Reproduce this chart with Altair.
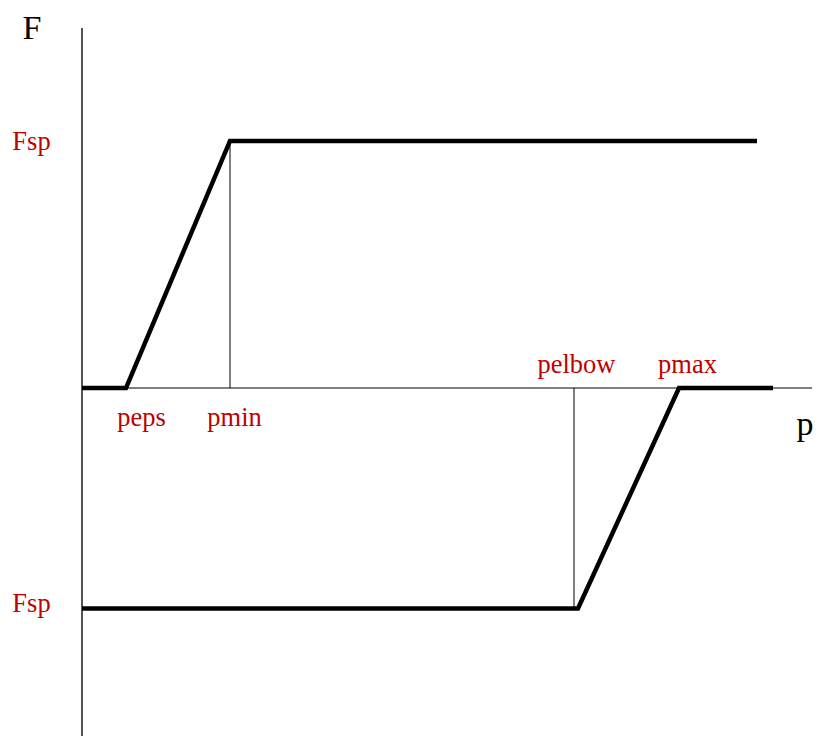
import altair as alt
import pandas as pd

# Upper characteristic (thick line)
upper_p = [0.0, 4.4, 14.8, 67.5]
upper_F = [0.0, 0.0, 24.7, 24.7]
# Lower characteristic (thick line)
lower_p = [0.0, 49.6, 59.7, 69.1]
lower_F = [-22.05, -22.05, 0.0, 0.0]

# Thin vertical guides: p position, F start, F end
guide_p = [14.8, 49.2]
guide_F1 = [0.0, -22.05]
guide_F2 = [24.7, 0.0]

# Axis extents
yaxis_F = [-34.8, 36.0]
xaxis_p = [0.0, 73.0]

# Red labels
red_text = ["Fsp", "Fsp", "peps", "pmin", "pelbow", "pmax"]
red_p = [-5.05, -5.05, 5.95, 15.25, 49.45, 60.55]
red_F = [23.85, -22.35, -3.8, -3.8, 1.47, 1.47]

# Black axis names
axis_text = ["F", "p"]
axis_p = [-5.0, 72.3]
axis_F = [34.9, -4.7]

# scale domains (whole canvas)
P_DOM = [-7.4, 73.2]
F_DOM = [-34.8, 38.0]

xs = alt.Scale(domain=P_DOM, nice=False, zero=False)
ys = alt.Scale(domain=F_DOM, nice=False, zero=False)

def X(field="p"):
    return alt.X(f"{field}:Q", scale=xs, axis=None)

def Y(field="F"):
    return alt.Y(f"{field}:Q", scale=ys, axis=None)

df_up = pd.DataFrame({"p": upper_p, "F": upper_F, "o": range(len(upper_p))})
df_lo = pd.DataFrame({"p": lower_p, "F": lower_F, "o": range(len(lower_p))})
df_g = pd.DataFrame({"p": guide_p, "F": guide_F1, "F2": guide_F2})
df_ya = pd.DataFrame({"p": [0.0], "F": [yaxis_F[0]], "F2": [yaxis_F[1]]})
df_xa = pd.DataFrame({"p": [xaxis_p[0]], "p2": [xaxis_p[1]], "F": [0.0]})
df_red = pd.DataFrame({"t": red_text, "p": red_p, "F": red_F})
df_ax = pd.DataFrame({"t": axis_text, "p": axis_p, "F": axis_F})

yaxis = alt.Chart(df_ya).mark_rule(color="#555555", strokeWidth=2).encode(
    x=X(), y=Y(), y2="F2:Q")
xaxis = alt.Chart(df_xa).mark_rule(color="#000000", strokeWidth=1.2).encode(
    x=X(), x2="p2:Q", y=Y())
guides = alt.Chart(df_g).mark_rule(color="#000000", strokeWidth=1).encode(
    x=X(), y=Y(), y2="F2:Q")
up = alt.Chart(df_up).mark_line(color="#000000", strokeWidth=4.5).encode(
    x=X(), y=Y(), order="o:Q")
lo = alt.Chart(df_lo).mark_line(color="#000000", strokeWidth=4.5).encode(
    x=X(), y=Y(), order="o:Q")
red = alt.Chart(df_red).mark_text(
    color="#c00000", font="Liberation Serif", fontSize=26.5,
    align="center", baseline="alphabetic").encode(x=X(), y=Y(), text="t:N")
axt = alt.Chart(df_ax).mark_text(
    color="#000000", font="Liberation Serif", fontSize=34,
    align="center", baseline="alphabetic").encode(x=X(), y=Y(), text="t:N")

chart = alt.layer(yaxis, xaxis, guides, up, lo, red, axt).properties(
    width=806, height=728,
    autosize=alt.AutoSizeParams(type="none"),
    padding=0,
).configure_view(stroke=None)

chart.save("out.html", embed_options={"renderer": "svg", "actions": False})
